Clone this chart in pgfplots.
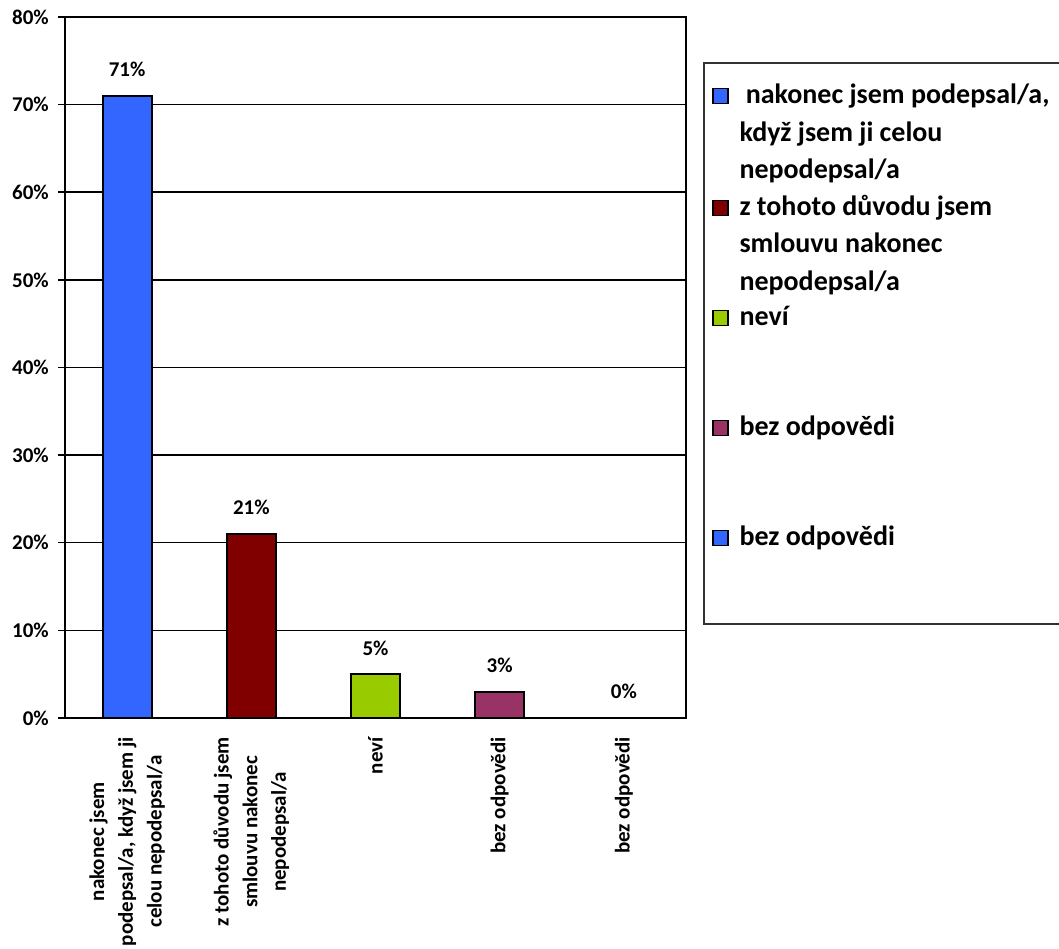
\documentclass[border=0pt]{standalone}
\usepackage{pgfplots}
\pgfplotsset{compat=1.18}
\usepackage{fontspec}
\setmainfont{Carlito}

\definecolor{barblue}{HTML}{3366FF}
\definecolor{barred}{HTML}{800000}
\definecolor{bargreen}{HTML}{99CC00}
\definecolor{barplum}{HTML}{993366}

% legend text block of fixed height; lines broken with \newline
\newcommand{\legtext}[2]{\parbox[t][#1][t]{313bp}{\raggedright\fontsize{28bp}{37.5bp}\selectfont\bfseries #2}}

\pgfplotsset{
  catbar/.style={
    ybar, bar width=49bp, bar shift=0pt,
    fill=#1, draw=black, line width=2bp,
    nodes near coords={\pgfmathprintnumber[assume math mode=true]{\pgfplotspointmeta}\%},
    every node near coord/.append style={anchor=base, inner sep=0pt, yshift=19bp,
      font=\fontsize{21bp}{25bp}\selectfont\bfseries, text=black},
    legend image code/.code={\draw[fill=#1, draw=black, line width=1.5bp] (0bp,0bp) rectangle (15bp,15bp);},
  },
}

\begin{document}
\begin{tikzpicture}
\path[use as bounding box] (0bp,0bp) rectangle (1059bp,949bp);
\begin{axis}[
  at={(65bp,231bp)}, anchor=south west,
  width=621bp, height=701bp, scale only axis,
  xmin=-0.5, xmax=4.5, ymin=0, ymax=80,
  ytick={0,10,...,80},
  yticklabels={0\%,10\%,20\%,30\%,40\%,50\%,60\%,70\%,80\%},
  xtick={0,1,2,3,4},
  xticklabels={
    {nakonec jsem\\podepsal/a, když jsem ji\\celou nepodepsal/a},
    {z tohoto důvodu jsem\\smlouvu nakonec\\nepodepsal/a},
    {neví},
    {bez odpovědi},
    {bez odpovědi}},
  ymajorgrids,
  grid style={black, line width=1.5bp},
  axis line style={black, line width=2.5bp},
  tick align=outside,
  major tick length=7bp,
  ytick style={black, line width=1.5bp},
  xtick style={draw=none},
  ytick pos=left,
  xtick pos=bottom,
  y tick label style={font=\fontsize{21bp}{25bp}\selectfont\bfseries, inner sep=0pt},
  yticklabel shift=9bp,
  x tick label style={rotate=90, anchor=east, align=center, inner sep=0pt,
    font=\fontsize{21bp}{28.7bp}\selectfont\bfseries},
  xticklabel shift=12bp,
  legend style={
    at={(1.0274,0.9358)}, anchor=north west,
    draw=black!80, line width=2bp,
    inner xsep=8bp, inner ysep=21bp,
    column sep=11bp, row sep=0pt,
    nodes={inner sep=0pt, text depth=},
    cells={anchor=base west},
  },
  clip=false,
]
\addplot[catbar=barblue] coordinates {(0,71)};
\addlegendentry{\legtext{111bp}{\ nakonec jsem podepsal/a,\newline když jsem ji celou\newline nepodepsal/a}}
\addplot[catbar=barred] coordinates {(1,21)};
\addlegendentry{\legtext{111bp}{z tohoto důvodu jsem\newline smlouvu nakonec\newline nepodepsal/a}}
\addplot[catbar=bargreen] coordinates {(2,5)};
\addlegendentry{\legtext{110bp}{neví}}
\addplot[catbar=barplum] coordinates {(3,3)};
\addlegendentry{\legtext{110bp}{bez odpovědi}}
\addplot[catbar=barblue] coordinates {(4,0)};
\addlegendentry{\legtext{77bp}{bez odpovědi}}
\end{axis}
\end{tikzpicture}
\end{document}
